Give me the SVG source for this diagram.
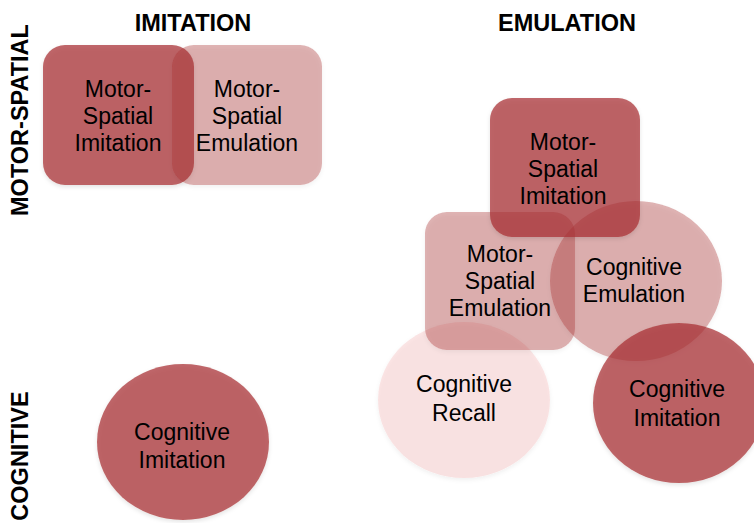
<svg xmlns="http://www.w3.org/2000/svg" width="754" height="523" viewBox="0 0 754 523">
<defs>
<filter id="sh" x="-10%" y="-10%" width="120%" height="125%">
<feDropShadow dx="0" dy="2" stdDeviation="2" flood-color="#000" flood-opacity="0.15"/>
</filter>
</defs>
<style>
.dark{fill:#a82f30;fill-opacity:0.72;filter:url(#sh)}
.light{fill:#a82f30;fill-opacity:0.36;filter:url(#sh)}
.pale{fill:#f8c0c0;fill-opacity:0.4;filter:url(#sh)}
.lbl{font-family:"Liberation Sans",Arial,sans-serif;font-size:23px;fill:#000;text-anchor:middle}
.hdr{font-family:"Liberation Sans",Arial,sans-serif;font-size:23.5px;font-weight:bold;fill:#000;text-anchor:middle}
</style>
<rect width="754" height="523" fill="#fff"/>
<g id="headers">
<text class="hdr" x="193" y="31">IMITATION</text>
<text class="hdr" x="567" y="31">EMULATION</text>
<text class="hdr" transform="translate(28,120) rotate(-90)">MOTOR-SPATIAL</text>
<text class="hdr" transform="translate(28,456) rotate(-90)">COGNITIVE</text>
</g>
<g id="connectors"></g>
<g id="ms-imitation-left">
<rect class="dark" x="43" y="45" width="151" height="140" rx="22"/>
</g>
<g id="ms-emulation-left">
<rect class="light" x="172" y="45" width="150" height="140" rx="22"/>
<text class="lbl" x="247" y="97">Motor-</text>
<text class="lbl" x="247" y="124">Spatial</text>
<text class="lbl" x="247" y="151">Emulation</text>
</g>
<g id="ms-imitation-left-text">
<text class="lbl" x="118" y="97">Motor-</text>
<text class="lbl" x="118" y="124">Spatial</text>
<text class="lbl" x="118" y="151">Imitation</text>
</g>
<g id="cog-imitation-left">
<ellipse class="dark" cx="183" cy="442" rx="86" ry="78"/>
<text class="lbl" x="182" y="440">Cognitive</text>
<text class="lbl" x="182" y="468">Imitation</text>
</g>
<g id="cog-recall">
<ellipse class="pale" cx="464" cy="400" rx="86" ry="78"/>
</g>
<g id="ms-emulation-right">
<rect class="light" x="425" y="212" width="150" height="138" rx="22"/>
</g>
<g id="cog-emulation">
<ellipse class="light" cx="636" cy="281" rx="86" ry="80"/>
</g>
<g id="ms-imitation-right">
<rect class="dark" x="490" y="98" width="150" height="139" rx="22"/>
</g>
<g id="cog-imitation-right">
<ellipse class="dark" cx="679" cy="403" rx="86" ry="80"/>
</g>
<g id="right-labels">
<text class="lbl" x="464" y="392">Cognitive</text>
<text class="lbl" x="464" y="421">Recall</text>
<text class="lbl" x="500" y="262">Motor-</text>
<text class="lbl" x="500" y="289">Spatial</text>
<text class="lbl" x="500" y="316">Emulation</text>
<text class="lbl" x="634" y="275">Cognitive</text>
<text class="lbl" x="634" y="302">Emulation</text>
<text class="lbl" x="563" y="150">Motor-</text>
<text class="lbl" x="563" y="177">Spatial</text>
<text class="lbl" x="563" y="204">Imitation</text>
<text class="lbl" x="677" y="397">Cognitive</text>
<text class="lbl" x="677" y="426">Imitation</text>
</g>
</svg>
